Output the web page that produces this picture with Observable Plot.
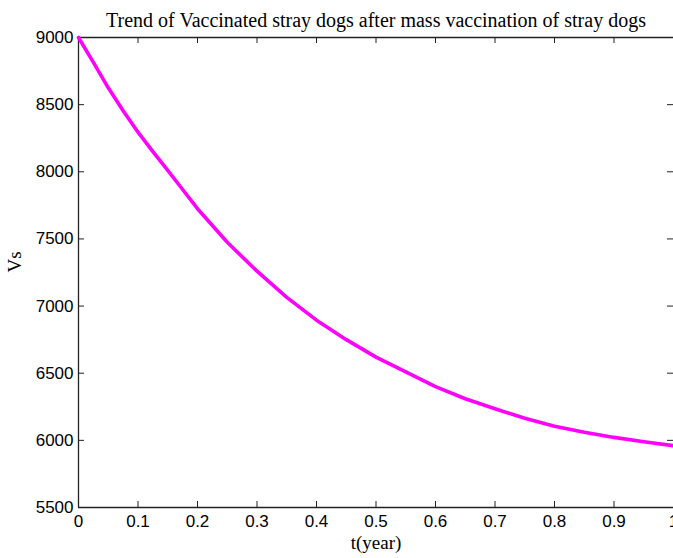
<!DOCTYPE html>
<html>
<head>
<meta charset="utf-8">
<script src="https://cdn.jsdelivr.net/npm/d3@7"></script>
<script src="https://cdn.jsdelivr.net/npm/@observablehq/plot@0.6"></script>
<style>
  html, body { margin: 0; padding: 0; background: #fff; }
  #chart { width: 673px; height: 558px; }
</style>
</head>
<body>
<div id="chart"></div>
<script>
const titleText = "Trend of Vaccinated stray dogs after mass vaccination of stray dogs";
const xLabelText = "t(year)";
const yLabelText = "Vs";

const xTicks = [0, 0.1, 0.2, 0.3, 0.4, 0.5, 0.6, 0.7, 0.8, 0.9, 1];
const xTickLabels = ["0", "0.1", "0.2", "0.3", "0.4", "0.5", "0.6", "0.7", "0.8", "0.9", "1"];
const yTicks = [5500, 6000, 6500, 7000, 7500, 8000, 8500, 9000];
const yTickLabels = ["5500", "6000", "6500", "7000", "7500", "8000", "8500", "9000"];

const tValues = [0, 0.025, 0.05, 0.075, 0.1, 0.125, 0.15, 0.175, 0.2, 0.25, 0.3, 0.35, 0.4, 0.45, 0.5, 0.55, 0.6, 0.65, 0.7, 0.75, 0.8, 0.85, 0.9, 0.95, 1.0];
const vsValues = [9000, 8815, 8625, 8455, 8295, 8150, 8010, 7868, 7725, 7475, 7260, 7065, 6895, 6750, 6620, 6510, 6400, 6310, 6235, 6165, 6105, 6060, 6022, 5990, 5960];

const W = 673, H = 558;
const mL = 78, mR = 0, mT = 37, mB = 51;
const xDomain = [0, 1], yDomain = [5500, 9000];
const tickPx = 6;
const dx = (xDomain[1] - xDomain[0]) * tickPx / (W - mL - mR);
const dy = (yDomain[1] - yDomain[0]) * tickPx / (H - mT - mB);

const data = tValues.map((t, i) => ({t, v: vsValues[i]}));

const sans = "'Liberation Sans', Arial, Helvetica, sans-serif";
const serif = "'Liberation Serif', 'Times New Roman', serif";
const axisColor = "#222";

const chart = Plot.plot({
  width: W, height: H,
  marginLeft: mL, marginRight: mR, marginTop: mT, marginBottom: mB,
  x: {domain: xDomain},
  y: {domain: yDomain},
  style: {fontFamily: sans, fontSize: "17px", color: "#000", background: "#fff", overflow: "visible"},
  marks: [
    Plot.axisX(xTicks, {tickSize: 0, tickPadding: 7, label: null, fontSize: 17, fontFamily: sans,
      tickFormat: (d) => xTickLabels[xTicks.indexOf(d)]}),
    Plot.axisY(yTicks, {tickSize: 0, tickPadding: 5, label: null, fontSize: 17, fontFamily: sans,
      tickFormat: (d) => yTickLabels[yTicks.indexOf(d)]}),
    // inward tick marks
    Plot.ruleX(xTicks, {x: d => d, y1: yDomain[0], y2: yDomain[0] + dy, stroke: axisColor, strokeWidth: 1}),
    Plot.ruleX(xTicks, {x: d => d, y1: yDomain[1], y2: yDomain[1] - dy, stroke: axisColor, strokeWidth: 1}),
    Plot.ruleY(yTicks, {y: d => d, x1: xDomain[0], x2: xDomain[0] + dx, stroke: axisColor, strokeWidth: 1}),
    Plot.ruleY(yTicks, {y: d => d, x1: xDomain[1], x2: xDomain[1] - dx, stroke: axisColor, strokeWidth: 1}),
    // frame (left, bottom, top)
    Plot.ruleY([yDomain[0]], {stroke: axisColor, strokeWidth: 1.3}),
    Plot.ruleY([yDomain[1]], {stroke: axisColor, strokeWidth: 1.6}),
    Plot.ruleX([xDomain[0]], {stroke: axisColor, strokeWidth: 1.3}),
    // data line
    Plot.line(data, {x: "t", y: "v", stroke: "#ff00ff", strokeWidth: 3.6, curve: "linear"}),
    // title and labels
    Plot.text([titleText], {frameAnchor: "top", lineAnchor: "bottom", dy: -11, fontFamily: serif, fontSize: 20, fill: "#000"}),
    Plot.text([xLabelText], {frameAnchor: "bottom", lineAnchor: "bottom", dy: 41, fontFamily: serif, fontSize: 19, fill: "#000"}),
    Plot.text([yLabelText], {frameAnchor: "left", lineAnchor: "bottom", dx: -58, rotate: -90, fontFamily: serif, fontSize: 19, fill: "#000"})
  ]
});
document.getElementById("chart").appendChild(chart);
</script>
</body>
</html>
